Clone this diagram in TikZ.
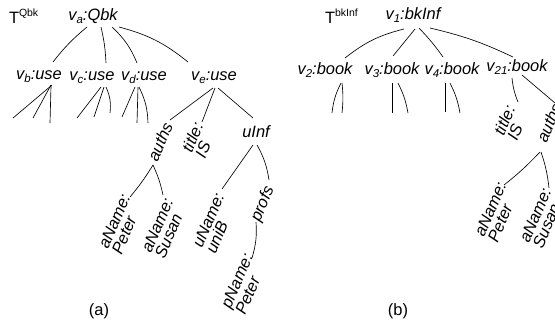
\documentclass[tikz,border=0pt]{standalone}
\usepackage{fontspec}
\setmainfont{Liberation Sans}
\usetikzlibrary{calc}
\newcommand{\sbx}[1]{\raisebox{-0.35ex}{\fontsize{11.5}{11}\selectfont #1}}
\newcommand{\spx}[1]{\raisebox{0.75ex}{\fontsize{10.5}{10}\selectfont #1}}
\begin{document}
\begin{tikzpicture}[x=1bp,y=-1bp,
  every node/.style={inner sep=0pt,outer sep=0pt},
  lbl/.style={font=\fontsize{16.5}{15}\selectfont\itshape},
  rlbl/.style={font=\fontsize{16.5}{14.5}\selectfont\itshape,rotate=67,align=left},
  plain/.style={font=\fontsize{16.5}{15}\selectfont},
  edge/.style={draw=black,line width=0.65pt}]
\useasboundingbox (0,0) rectangle (555,324);
% ---------- (a) ----------
\node[plain,anchor=base west] (Ta) at (9,23) {T\spx{Qbk}};
\node[lbl,anchor=base] (va) at (93,20) {v\sbx{a}:Qbk};
\node[lbl,anchor=base] (vb) at (39,79) {v\sbx{b}:use};
\node[lbl,anchor=base] (vc) at (92,80) {v\sbx{c}:use};
\node[lbl,anchor=base] (vd) at (144,80) {v\sbx{d}:use};
\node[lbl,anchor=base] (ve) at (214,80) {v\sbx{e}:use};
\node[rlbl] (authsA) at (160,142) {auths};
\node[rlbl] (titleA) at (199,140) {title:\\IS};
\node[lbl,anchor=base] (uinf) at (256,137) {uInf};
\node[rlbl] (anpA) at (121,224) {aName:\\Peter};
\node[rlbl] (ansA) at (164,228) {aName:\\Susan};
\node[rlbl] (uname) at (215,223) {uName:\\uniB};
\node[rlbl] (profs) at (263,204) {profs};
\node[rlbl] (pname) at (244,284) {pName:\\Peter};
\node[plain] (capa) at (99,311) {(a)};
% leaf coordinates (a)
\coordinate (b1) at (13,118);
\coordinate (b2) at (33,118);
\coordinate (b3) at (50,123);
\coordinate (c1) at (77,118);
\coordinate (c2) at (94,117);
\coordinate (c3) at (110,113);
\coordinate (d1) at (122,117);
\coordinate (d2) at (137,123);
\coordinate (d3) at (148,123);
% edges (a)
\draw[edge] ($(va.base)+(-6,7)$) to[bend right=6] ($(vb.base)+(14,-17)$);
\draw[edge] ($(va.base)+(8,7)$) to[bend left=5] ($(vc.base)+(14,-17)$);
\draw[edge] ($(va.base)+(19,7)$) to[bend left=12] ($(vd.base)+(-7,-17)$);
\draw[edge] ($(va.base)+(26,7)$) to[bend left=12] ($(ve.base)+(-26,-18)$);
\draw[edge] ($(vb.base)+(13,6)$) -- (b1);
\draw[edge] ($(vb.base)+(12,6)$) -- (b2);
\draw[edge] ($(vb.base)+(12,7)$) -- (b3);
\draw[edge] ($(vc.base)+(9,7)$) -- (c1);
\draw[edge] ($(vc.base)+(12,7)$) -- (c2);
\draw[edge] ($(vc.base)+(14,7)$) to[bend left=15] (c3);
\draw[edge] ($(vd.base)+(-9,7)$) -- (d1);
\draw[edge] ($(vd.base)+(-6,7)$) -- (d2);
\draw[edge] ($(vd.base)+(-5,7)$) to[bend left=12] (d3);
\draw[edge] ($(ve.base)+(-1,8)$) -- ($(authsA)+(10,-22)$);
\draw[edge] ($(ve.base)+(1,8)$) -- ($(titleA)+(3,-18)$);
\draw[edge] ($(ve.base)+(4,8)$) -- ($(uinf.base)+(-3,-19)$);
\draw[edge] ($(authsA)+(-7,23)$) to[bend left=4] ($(anpA)+(9,-27)$);
\draw[edge] ($(authsA)+(-7,23)$) to[bend left=6] ($(ansA)+(-1,-33)$);
\draw[edge] ($(uinf.base)+(-3,8)$) -- ($(uname)+(7,-34)$);
\draw[edge] ($(uinf.base)+(1,8)$) to[bend left=10] ($(profs)+(6,-24)$);
\draw[edge] ($(profs)+(-7,18)$) to[bend left=10] ($(pname)+(8,-26)$);
% ---------- (b) ----------
\node[plain,anchor=base west] (Tb) at (325,23) {T\spx{bkInf}};
\node[lbl,anchor=base] (v1) at (413,19) {v\sbx{1}:bkInf};
\node[lbl,anchor=base] (v2) at (325,74) {v\sbx{2}:book};
\node[lbl,anchor=base] (v3) at (392,74) {v\sbx{3}:book};
\node[lbl,anchor=base] (v4) at (452,74) {v\sbx{4}:book};
\node[lbl,anchor=base] (v21) at (517,71) {v\sbx{21}:book};
\node[rlbl] (titleB) at (511,123) {title:\\IS};
\node[rlbl] (authsB) at (549,123) {auths};
\node[rlbl] (anpB) at (497,212) {aName:\\Peter};
\node[rlbl] (ansB) at (542,218) {aName:\\Susan};
\node[plain] (capb) at (398,311) {(b)};
\coordinate (l21) at (332,113);
\coordinate (l22) at (342,113);
\coordinate (l31) at (392,113);
\coordinate (l32) at (408,113);
\coordinate (l41) at (445,112);
\coordinate (l42) at (460,113);
% edges (b)
\draw[edge] ($(v1.base)+(-9,10)$) to[bend right=12] ($(v2.base)+(20,-16)$);
\draw[edge] ($(v1.base)+(2,10)$) -- ($(v3.base)+(1,-18)$);
\draw[edge] ($(v1.base)+(6,9)$) to[bend left=4] ($(v4.base)+(-9,-17)$);
\draw[edge] ($(v1.base)+(17,9)$) to[bend left=6] ($(v21.base)+(-4,-14)$);
\draw[edge] ($(v2.base)+(16,9)$) to[bend right=10] (l21);
\draw[edge] ($(v2.base)+(17,9)$) to[bend left=6] (l22);
\draw[edge] ($(v3.base)+(0,9)$) -- (l31);
\draw[edge] ($(v3.base)+(6,9)$) to[bend left=8] (l32);
\draw[edge] ($(v4.base)+(-7,9)$) -- (l41);
\draw[edge] ($(v4.base)+(-2,9)$) to[bend left=8] (l42);
\draw[edge] ($(v21.base)+(-5,7)$) to[bend right=8] ($(titleB)+(7,-21)$);
\draw[edge] ($(v21.base)+(5,4)$) -- ($(authsB)+(6,-20)$);
\draw[edge] ($(authsB)+(-9,29)$) to[bend left=4] ($(anpB)+(7,-27)$);
\draw[edge] ($(authsB)+(-8,29)$) to[bend left=6] ($(ansB)+(7,-30)$);
\end{tikzpicture}
\end{document}
